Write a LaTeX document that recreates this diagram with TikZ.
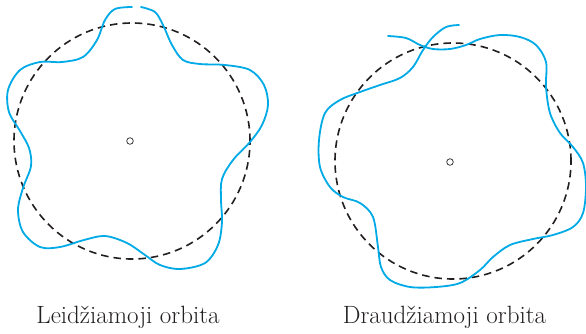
\documentclass[tikz,border=0pt]{standalone}
\usepackage{xcolor}
\definecolor{wave}{RGB}{0,170,230}
\definecolor{orbitline}{RGB}{35,31,32}
\tikzset{
  orbit/.style={draw=orbitline, line width=1.6pt, dash pattern=on 7.5pt off 5pt},
  wavepath/.style={draw=wave, line width=1.8pt, line cap=round, smooth, tension=0.55},
  nucleus/.style={draw=orbitline, line width=0.7pt},
  caption/.style={anchor=base, inner sep=0pt, font=\fontsize{25}{28}\selectfont, text=orbitline}
}
\begin{document}
\begin{tikzpicture}[x=1pt, y=-1pt]
\useasboundingbox (0,0) rectangle (586,333);

% ---- allowed orbit: closed standing wave ----
\coordinate (lc) at (132,141);
\draw[orbit] (lc) circle[radius=118pt];
\draw[nucleus] (130,141) circle[radius=3.3pt];
\draw[wavepath] plot coordinates {
  (141,7) (155,12) (163,25) (172,45) (183,60) (200,64) (225,65) (250,70)
  (264,85) (268,105) (262,125) (250,142) (233,160) (222,179) (221,200)
  (222,222) (218,245) (205,263) (180,269) (160,265) (145,255) (127,243)
  (105,236) (84,240) (60,247) (40,247) (23,232) (18,210) (23,188) (31,166)
  (29,148) (20,131) (9,112) (8,90) (20,70) (40,62) (62,62) (83,57)
  (97,40) (105,20) (115,9) (132,7)
};

% ---- forbidden orbit: wave does not close on itself ----
\coordinate (rc) at (453,161);
\draw[orbit] (rc) circle[radius=118pt];
\draw[nucleus] (450,162) circle[radius=3.3pt];
\draw[wavepath] plot coordinates {
  (388,36) (406,38) (420,45) (433,49) (450,49) (466,45) (480,39) (500,35)
  (520,37) (536,45) (546,62) (546,87) (550,113) (560,133) (573,147)
  (583,163) (586,187) (583,213) (573,227) (553,235) (533,239) (510,245)
  (493,257) (480,270) (460,283) (436,287) (410,287) (390,280) (381,267)
  (378,247) (373,217) (360,203) (343,197) (330,187) (320,167) (319,140)
  (325,113) (340,100) (360,92) (380,85) (400,78) (413,67) (423,50)
  (433,37) (446,27) (459,25)
};

% ---- captions ----
\node[caption] (allowed) at (128,323) {Leidžiamoji orbita};
\node[caption] (forbidden) at (444.5,323) {Draudžiamoji orbita};
\end{tikzpicture}
\end{document}
